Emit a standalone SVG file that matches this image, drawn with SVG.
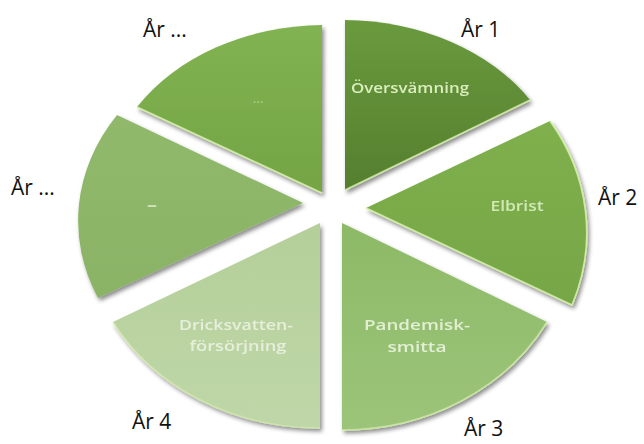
<svg xmlns="http://www.w3.org/2000/svg" width="644" height="444" viewBox="0 0 644 444">
<defs>
<filter id="sh" x="-10%" y="-10%" width="125%" height="125%">
<feDropShadow dx="2" dy="3" stdDeviation="2" flood-color="#000" flood-opacity="0.45"/>
</filter>
<linearGradient id="g1" x1="0" y1="0" x2="0" y2="1"><stop offset="0" stop-color="#6a9a3e"/><stop offset="1" stop-color="#557f2e"/></linearGradient>
<linearGradient id="g2" x1="0" y1="0" x2="0" y2="1"><stop offset="0" stop-color="#7fb04d"/><stop offset="1" stop-color="#76a646"/></linearGradient>
<linearGradient id="g3" x1="0" y1="0" x2="0" y2="1"><stop offset="0" stop-color="#8dba66"/><stop offset="1" stop-color="#9cc47a"/></linearGradient>
<linearGradient id="g4" x1="0" y1="0" x2="0" y2="1"><stop offset="0" stop-color="#b4cf99"/><stop offset="1" stop-color="#bfd7a8"/></linearGradient>
<linearGradient id="g5" x1="0" y1="0" x2="0" y2="1"><stop offset="0" stop-color="#90b96c"/><stop offset="1" stop-color="#8ab365"/></linearGradient>
<linearGradient id="g6" x1="0" y1="0" x2="0" y2="1"><stop offset="0" stop-color="#82b352"/><stop offset="1" stop-color="#73a444"/></linearGradient>
</defs>
<style>
.slice{filter:url(#sh)}
.edge{fill:none;stroke:#d4f0a4;stroke-width:1.6;stroke-linejoin:round}
.lbl{font-family:"Open Sans","DejaVu Sans",sans-serif;font-size:14px;font-weight:600;text-anchor:middle}
.yr{font-family:"Open Sans","DejaVu Sans",sans-serif;font-size:21px;fill:#111}
</style>
<g id="s1" class="slice">
<path d="M345,190 L345,20 A220,170 0 0,1 530,100 Z" fill="url(#g1)"/>
<path class="edge" d="M345,190 L530,100" opacity="0.8"/>
<text class="lbl" x="410" y="93" fill="#d9eebd" textLength="118" lengthAdjust="spacingAndGlyphs">Översvämning</text>
</g>
<g id="s2" class="slice">
<path d="M366,208 L550,121 A228,205 0 0,1 572,305 Z" fill="url(#g2)"/>
<path class="edge" d="M550,121 A228,205 0 0,1 572,305 L366,208" opacity="0.9"/>
<text class="lbl" x="517" y="211" fill="#d2e9b6" textLength="53" lengthAdjust="spacingAndGlyphs">Elbrist</text>
</g>
<g id="s3" class="slice">
<path d="M342,223 L547,322 A233,207 0 0,1 342,430 Z" fill="url(#g3)"/>
<path class="edge" d="M547,322 A233,207 0 0,1 342,430" opacity="0.7"/>
<text class="lbl" x="417" y="330" fill="#e2efd4" textLength="106" lengthAdjust="spacingAndGlyphs">Pandemisk-</text>
<text class="lbl" x="417" y="352" fill="#e2efd4" textLength="59" lengthAdjust="spacingAndGlyphs">smitta</text>
</g>
<g id="s4" class="slice">
<path d="M320,223 L320,428 A235,205 0 0,1 113,322 Z" fill="url(#g4)"/>
<path class="edge" d="M320,428 A235,205 0 0,1 113,322" opacity="0.6" stroke="#eaf6d8"/>
<text class="lbl" x="236" y="330" fill="#e6efdc" textLength="114" lengthAdjust="spacingAndGlyphs">Dricksvatten-</text>
<text class="lbl" x="238" y="351" fill="#e6efdc" textLength="97" lengthAdjust="spacingAndGlyphs">försörjning</text>
</g>
<g id="s5" class="slice">
<path d="M303,203 L98,298 A230,190 0 0,1 117,115 Z" fill="url(#g5)"/>
<text class="lbl" x="152" y="211" fill="#cfe5b8" style="font-size:20px">–</text>
</g>
<g id="s6" class="slice">
<path d="M322,193 L137,107 A220,170 0 0,1 322,25 Z" fill="url(#g6)"/>
<path class="edge" d="M322,193 L137,107" opacity="0.9"/>
<text class="lbl" x="258" y="103" fill="#a9cc88" style="font-size:13px">…</text>
</g>
<g id="years">
<text class="yr" x="461" y="37">År 1</text>
<text class="yr" x="598" y="205">År 2</text>
<text class="yr" x="464" y="436">År 3</text>
<text class="yr" x="132" y="429">År 4</text>
<text class="yr" x="11" y="195">År ...</text>
<text class="yr" x="143" y="37">År ...</text>
</g>
</svg>
